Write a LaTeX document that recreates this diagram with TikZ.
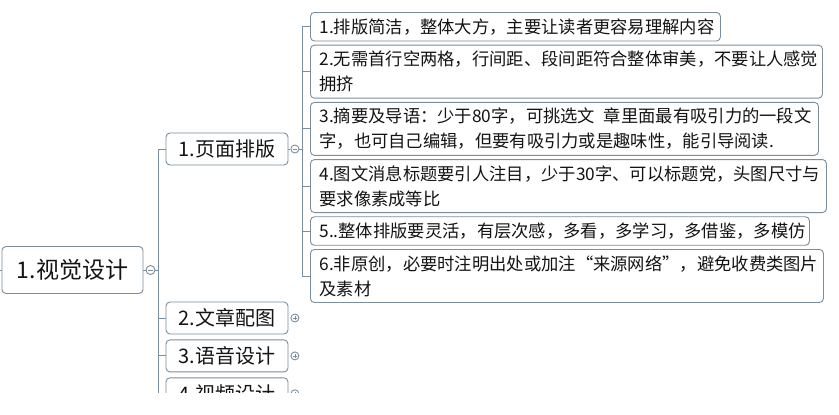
\documentclass[tikz,border=0pt]{standalone}
\usepackage{fontspec}
\setmainfont{Noto Sans CJK SC}
\usetikzlibrary{positioning}
\definecolor{mapline}{RGB}{122,142,158}
\definecolor{maptext}{RGB}{20,20,20}
\tikzset{
    mindroot/.style={draw=mapline, rounded corners=4pt, fill=white, text=maptext, font=\fontsize{23pt}{27pt}\selectfont, minimum width=141pt, minimum height=47pt, inner sep=0pt},
    mindtopic/.style={draw=mapline, rounded corners=4pt, fill=white, text=maptext, font=\fontsize{20pt}{24pt}\selectfont, minimum width=122pt, minimum height=32pt, inner sep=0pt},
    mindleaf/.style={draw=mapline, rounded corners=4pt, fill=white, text=maptext, align=left, font=\fontsize{17.3pt}{25pt}\selectfont, text width=#1, inner xsep=9pt, inner ysep=1pt, minimum height=28.5pt},
    mindtall/.style={minimum height=53pt},
    mindfold/.style={circle, draw=mapline, fill=white, minimum size=8pt, inner sep=0pt},
    foldminus/.style={mindfold, path picture={\draw[mapline, line width=0.6pt] ([xshift=-2.3pt]path picture bounding box.center) -- ([xshift=2.3pt]path picture bounding box.center);}},
    foldplus/.style={mindfold, path picture={
        \draw[mapline, line width=0.6pt] ([xshift=-2.3pt]path picture bounding box.center) -- ([xshift=2.3pt]path picture bounding box.center);
        \draw[mapline, line width=0.6pt] ([yshift=-2.3pt]path picture bounding box.center) -- ([yshift=2.3pt]path picture bounding box.center);}},
    mindline/.style={draw=mapline}
}

\begin{document}
\begin{tikzpicture}[x=1pt, y=-1pt, line width=0.9pt, node distance=3.3pt]
    \useasboundingbox[fill=white] (0,0) rectangle (839,415);
    \begin{scope}
        \clip (0,0) rectangle (839,392);
        % root and its topics
        \coordinate (visionin) at (0,270);
        \node[mindroot] (vision) at (72.5,270) {1.视觉设计};
        \node[foldminus, minimum size=9pt] (visionfold) at (150.5,270) {};
        \node[mindtopic] (layout) at (227,149) {1.页面排版};
        \node[mindtopic] (picture) at (227,318) {2.文章配图};
        \node[mindtopic, below=5pt of picture] (voice) {3.语音设计};
        \node[mindtopic, below=5pt of voice] (video) {4.视频设计};
        \node[foldminus, right=2pt of layout] (layoutfold) {};
        \node[foldplus, right=2pt of picture] (picturefold) {};
        \node[foldplus, right=2pt of voice] (voicefold) {};
        \node[foldplus, right=2pt of video] (videofold) {};
        % tips of the layout topic
        \node[mindleaf=392pt, anchor=north west] (tipa) at (310,12) {1.排版简洁，整体大方，主要让读者更容易理解内容};
        \node[mindleaf=494pt, mindtall, below=of tipa.south west, anchor=north west] (tipb) {2.无需首行空两格，行间距、段间距符合整体审美，不要让人感觉\\拥挤};
        \node[mindleaf=490pt, mindtall, below=of tipb.south west, anchor=north west] (tipc) {3.摘要及导语：少于80字，可挑选文\kern0.5em 章里面最有吸引力的一段文\\字，也可自己编辑，但要有吸引力或是趣味性，能引导阅读.};
        \node[mindleaf=498pt, mindtall, below=of tipc.south west, anchor=north west] (tipd) {4.图文消息标题要引人注目，少于30字、可以标题党，头图尺寸与\\要求像素成等比};
        \node[mindleaf=481pt, below=of tipd.south west, anchor=north west] (tipe) {5..整体排版要灵活，有层次感，多看，多学习，多借鉴，多模仿};
        \node[mindleaf=495pt, mindtall, below=of tipe.south west, anchor=north west] (tipf) {6.非原创，必要时注明出处或加注“来源网络”，避免收费类图片\\及素材};
        % connectors
        \draw[mindline] (visionin) -- (vision);
        \draw[mindline] (vision) -- (visionfold);
        \draw[mindline] (visionfold.east) -- ++(2.5,0) |- (layout.west);
        \draw[mindline] (visionfold.east) -- ++(2.5,0) |- (picture.west);
        \draw[mindline] (visionfold.east) -- ++(2.5,0) |- (voice.west);
        \draw[mindline] (visionfold.east) -- ++(2.5,0) |- (video.west);
        \draw[mindline] (layout) -- (layoutfold);
        \draw[mindline] (layoutfold.east) -- ++(3,0) |- (tipa.west);
        \draw[mindline] (layoutfold.east) -- ++(3,0) |- (tipb.west);
        \draw[mindline] (layoutfold.east) -- ++(3,0) |- (tipc.west);
        \draw[mindline] (layoutfold.east) -- ++(3,0) |- (tipd.west);
        \draw[mindline] (layoutfold.east) -- ++(3,0) |- (tipe.west);
        \draw[mindline] (layoutfold.east) -- ++(3,0) |- (tipf.west);
    \end{scope}
\end{tikzpicture}
\end{document}
